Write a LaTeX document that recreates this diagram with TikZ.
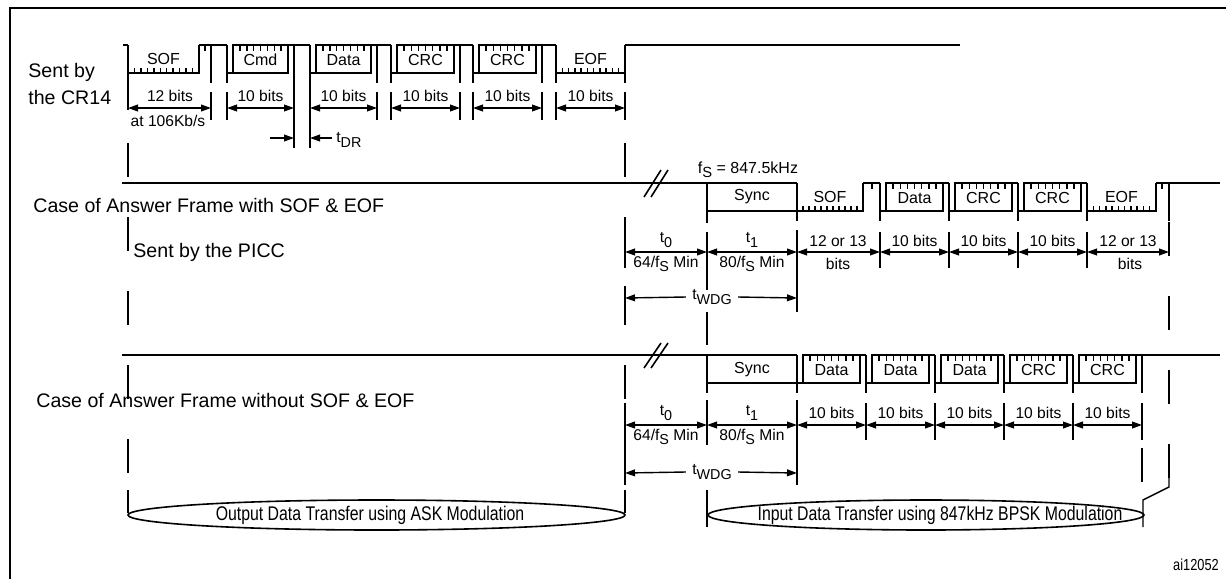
\documentclass[tikz,border=0pt]{standalone}
\usepackage{fontspec}
\setmainfont{Liberation Sans}
\newfontfamily\condfont[FakeStretch=0.8]{Liberation Sans}
\usetikzlibrary{arrows.meta}

% lowered index, nearly full size
\newcommand{\sbs}[1]{\raisebox{-0.5ex}{\scalebox{0.92}{#1}}}
% one character of the frame: start x, end x, top y, text
\newcommand{\pcchar}[4]{%
  \draw[sig] (#1,#3) -- (#1,{#3+38});
  \draw[sig] (#2,#3) -- (#2,{#3+38});
  \draw[sig] (#1,{#3+28}) -- ({#2-6},{#3+28}) -- ({#2-6},#3) -- ({#1+6},#3) -- ({#1+6},{#3+28});
  \draw[sig] ({#2-6},#3) -- (#2,#3);
  \foreach \k in {1,...,7}
    \draw[tick] ({#1+6+\k*(#2-#1-12)/8},#3) -- ++(0,6);
  \node[siglbl] (ch#1x#3) at ({(#1+#2)/2},{#3+15}) {#4};
}
% low part of SOF / EOF: start x, rise x, top y, text
\newcommand{\pclow}[4]{%
  \draw[sig] (#1,#3) -- (#1,{#3+38});
  \draw[sig] (#1,{#3+28}) -- (#2,{#3+28}) -- (#2,#3);
  \foreach \k in {1,...,10}
    \draw[tick] ({#1+\k*(#2-#1)/11},{#3+28}) -- ++(0,-5);
  \node[siglbl] (lo#1x#3) at ({(#1+#2)/2},{#3+14}) {#4};
}

\begin{document}
\begin{tikzpicture}[x=0.5pt,y=-0.5pt,
sig/.style={line width=1.3pt},
tick/.style={line width=0.75pt},
ext/.style={line width=0.7pt},
guide/.style={line width=0.7pt,dash pattern=on 17pt off 20pt},
dimarr/.style={{Triangle[length=5pt,width=3.4pt]}-{Triangle[length=5pt,width=3.4pt]},line width=0.7pt},
onearr/.style={-{Triangle[length=5pt,width=3.4pt]},line width=0.7pt},
lbl/.style={font=\fontsize{9.8}{13.5}\selectfont,inner sep=0pt,align=left,anchor=west},
dimlbl/.style={font=\fontsize{7.8}{9}\selectfont,inner sep=0pt},
siglbl/.style={font=\fontsize{8}{9}\selectfont,inner sep=0pt},
ovaltxt/.style={font=\condfont\fontsize{9.9}{11}\selectfont,inner sep=0pt}
]
\useasboundingbox (0,0) rectangle (1226,579);
\draw[line width=1.4pt] (10,579) -- (10,8) -- (1226,8);

% labels on the left
\node[lbl] (cr14) at (28,84) {Sent by\\the CR14};
\node[lbl] (casea) at (33,205) {Case of Answer Frame with SOF \& EOF};
\node[lbl] (picc) at (133,252) {Sent by the PICC};
\node[lbl] (caseb) at (36,400) {Case of Answer Frame without SOF \& EOF};

% ---- frame sent by the CR14
\draw[sig] (123,45) -- (128,45);
\pclow{128}{199}{45}{SOF}
\draw[sig] (199,45) -- (227,45);
\draw[tick] (205,45) -- ++(0,6);
\draw[sig] (211,45) -- (211,83);
\pcchar{227}{294}{45}{Cmd}
\pcchar{310}{377}{45}{Data}
\pcchar{391}{460}{45}{CRC}
\pcchar{473}{542}{45}{CRC}
\draw[sig] (294,45) -- (310,45);
\draw[sig] (377,45) -- (391,45);
\draw[sig] (460,45) -- (473,45);
\draw[sig] (542,45) -- (556,45);
\pclow{556}{625}{45}{EOF}
\draw[sig] (625,45) -- (960,45);
\draw[sig] (625,45) -- (625,83);

\foreach \x in {211,227,377,391,460,473,542,556,625}
  \draw[ext] (\x,92) -- (\x,120);
\draw[ext] (128,83) -- (128,110);
\draw[ext] (294,83) -- (294,148);
\draw[ext] (310,83) -- (310,148);
\draw[dimarr] (128,108) -- (211,108);
\node[dimlbl] (sofbits) at (170,96) {12 bits};
\node[dimlbl] (rate) at (168,121) {at 106Kb/s};
\foreach \a/\b in {227/294,310/377,391/460,473/542,556/625} {
  \draw[dimarr] (\a,108) -- (\b,108);
  \node[dimlbl] (bitsA\a) at ({(\a+\b)/2},96) {10 bits};
}
\draw[onearr] (270,138) -- (294,138);
\draw[onearr] (332,138) -- (310,138);
\node[dimlbl,anchor=west] (tdr) at (336,140) {t\sbs{DR}};

% ---- answer frame with SOF & EOF
\draw[sig] (122,183) -- (797,183);
\draw[line width=0.8pt] (644,197) -- (661,170);
\draw[line width=0.8pt] (651,197) -- (668,170);
\node[siglbl] (fs) at (748,170) {f\sbs{S} = 847.5kHz};
\draw[sig] (707,183) -- (707,223);
\draw[sig] (707,211) -- (797,211);
\node[siglbl] (synca) at (752,197) {Sync};
\pclow{797}{863}{183}{SOF}
\draw[sig] (863,183) -- (880,183);
\draw[tick] (872,183) -- ++(0,6);
\pcchar{880}{949}{183}{Data}
\pcchar{949}{1018}{183}{CRC}
\pcchar{1018}{1087}{183}{CRC}
\pclow{1087}{1156}{183}{EOF}
\draw[sig] (1156,183) -- (1220,183);
\draw[tick] (1162,183) -- ++(0,6);
\draw[sig] (1169,183) -- (1169,221);

\foreach \x in {880,949,1018,1087}
  \draw[ext] (\x,232) -- (\x,268);
\draw[ext] (797,230) -- (797,312);
\draw[ext] (707,232) -- (707,290);
\draw[ext] (625,232) -- (625,268);
\draw[ext] (625,286) -- (625,310);
\draw[dimarr] (625,252) -- (707,252);
\node[dimlbl] (t0a) at (666,240) {t\sbs{0}};
\node[dimlbl] (m64a) at (666,264) {64/f\sbs{S} Min};
\draw[dimarr] (707,252) -- (797,252);
\node[dimlbl] (t1a) at (752,240) {t\sbs{1}};
\node[dimlbl] (m80a) at (752,264) {80/f\sbs{S} Min};
\draw[dimarr] (797,252) -- (880,252);
\node[dimlbl] (sofa) at (838,241) {12 or 13};
\node[dimlbl] (sofb) at (838,264) {bits};
\foreach \a/\b in {880/949,949/1018,1018/1087} {
  \draw[dimarr] (\a,252) -- (\b,252);
  \node[dimlbl] (bitsB\a) at ({(\a+\b)/2},241) {10 bits};
}
\draw[dimarr] (1087,252) -- (1169,252);
\node[dimlbl] (eofa) at (1128,241) {12 or 13};
\node[dimlbl] (eofb) at (1130,264) {bits};
\node[dimlbl,inner sep=3pt] (wdga) at (712,297) {t\sbs{WDG}};
\draw[onearr] (wdga.west) -- (625,298);
\draw[onearr] (wdga.east) -- (797,298);

% ---- answer frame without SOF & EOF
\draw[sig] (122,355) -- (797,355);
\draw[line width=0.8pt] (644,368) -- (661,343);
\draw[line width=0.8pt] (651,368) -- (668,343);
\draw[sig] (707,355) -- (707,393);
\draw[sig] (707,383) -- (797,383);
\draw[sig] (797,355) -- (797,393);
\node[siglbl] (syncb) at (752,370) {Sync};
\pcchar{797}{866}{355}{Data}
\pcchar{866}{935}{355}{Data}
\pcchar{935}{1004}{355}{Data}
\pcchar{1004}{1073}{355}{CRC}
\pcchar{1073}{1142}{355}{CRC}
\draw[sig] (1142,355) -- (1220,355);

\foreach \x in {866,935,1004,1073,1142}
  \draw[ext] (\x,403) -- (\x,440);
\draw[ext] (797,400) -- (797,485);
\draw[ext] (707,400) -- (707,445);
\draw[ext] (625,403) -- (625,440);
\draw[ext] (625,460) -- (625,485);
\draw[dimarr] (625,425) -- (707,425);
\node[dimlbl] (t0b) at (666,413) {t\sbs{0}};
\node[dimlbl] (m64b) at (666,437) {64/f\sbs{S} Min};
\draw[dimarr] (707,425) -- (797,425);
\node[dimlbl] (t1b) at (752,413) {t\sbs{1}};
\node[dimlbl] (m80b) at (752,437) {80/f\sbs{S} Min};
\foreach \a/\b in {797/866,866/935,935/1004,1004/1073,1073/1142} {
  \draw[dimarr] (\a,425) -- (\b,425);
  \node[dimlbl] (bitsC\a) at ({(\a+\b)/2},413) {10 bits};
}
\node[dimlbl,inner sep=3pt] (wdgb) at (712,472) {t\sbs{WDG}};
\draw[onearr] (wdgb.west) -- (625,473);
\draw[onearr] (wdgb.east) -- (797,473);

% guide lines down to the modulation ovals
\draw[guide] (128,143) -- (128,513);
\draw[guide] (625,143) -- (625,513);
\draw[ext] (707,312) -- (707,345);
\draw[ext] (707,490) -- (707,527);
\draw[guide] (1169,222) -- (1169,487);
\draw[guide] (1142,448) -- (1142,500);
\draw[ext] (128,490) -- (128,513);
\draw[ext] (625,490) -- (625,513);
\draw[ext] (1169,470) -- (1169,487) -- (1143,500) -- (1143,527);

\draw[line width=0.8pt] (376.5,515) ellipse [x radius=248.5,y radius=15];
\node[ovaltxt] (ask) at (370,515) {Output Data Transfer using ASK Modulation};
\draw[line width=0.8pt] (926,515) ellipse [x radius=218,y radius=15];
\node[ovaltxt] (bpsk) at (940,515) {Input Data Transfer using 847kHz BPSK Modulation};

\node[font=\condfont\fontsize{8}{9}\selectfont,inner sep=0pt] (fig) at (1196,565) {ai12052};
\end{tikzpicture}
\end{document}
